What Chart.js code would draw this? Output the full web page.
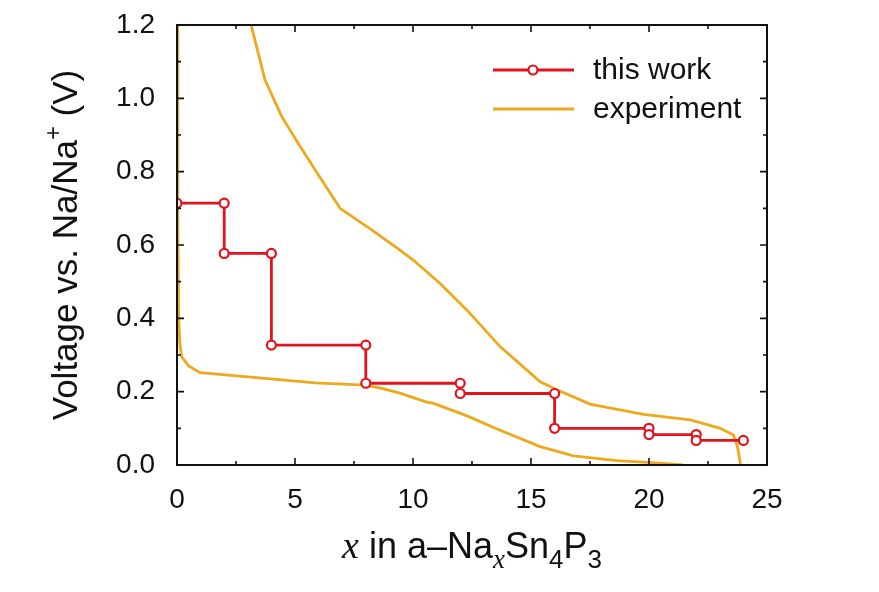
<!DOCTYPE html>
<html>
<head>
<meta charset="utf-8">
<script src="https://cdn.jsdelivr.net/npm/chart.js@4.4.1/dist/chart.umd.min.js"></script>
<style>
  html, body { margin: 0; padding: 0; background: #fff; }
  #wrap { width: 879px; height: 592px; }
</style>
</head>
<body>
<div id="wrap"><canvas id="grafico"></canvas></div>
<script>
// this work: stepped voltage profile
const workX = [0, 2, 2, 4, 4, 8, 8, 12, 12, 16, 16, 20, 20, 22, 22, 24];
const workY = [0.714, 0.714, 0.577, 0.577, 0.327, 0.327, 0.223, 0.223, 0.195, 0.195, 0.100, 0.100, 0.083, 0.083, 0.067, 0.067];

// experiment: discharge branch
const disX = [0.0, 0.02, 0.04, 0.07, 0.12, 0.2, 0.5, 0.97, 3.73, 5.85, 7.97, 8.68, 9.45, 10.51, 10.87, 12.21, 13.69, 15.39, 16.8, 18.64, 20.47, 21.45];
const disY = [1.25, 1.0, 0.7, 0.404, 0.33, 0.295, 0.27, 0.252, 0.236, 0.224, 0.218, 0.209, 0.196, 0.173, 0.168, 0.136, 0.095, 0.05, 0.025, 0.012, 0.005, 0.0];
// experiment: charge branch
const chX = [23.88, 23.75, 23.58, 23.02, 21.75, 19.77, 17.5, 16.1, 15.39, 13.69, 12.28, 11.15, 10.05, 9.45, 8.25, 6.91, 5.85, 5.14, 4.44, 3.73, 3.14, 3.05];
const chY = [0.0, 0.05, 0.082, 0.10, 0.123, 0.138, 0.166, 0.205, 0.227, 0.323, 0.423, 0.495, 0.557, 0.586, 0.641, 0.70, 0.805, 0.877, 0.95, 1.05, 1.2, 1.25];

const xTicks = [0, 5, 10, 15, 20, 25];
const yTicks = [0.0, 0.2, 0.4, 0.6, 0.8, 1.0, 1.2];
const nomes = ['this work', 'experiment'];

const VERMELHO = '#e1141e';
const LARANJA = '#eea81c';
const FONTE = '"Liberation Sans", Arial, sans-serif';

const dadosWork = workX.map((x, i) => ({x, y: workY[i]}));
const dadosExp = disX.map((x, i) => ({x, y: disY[i]}))
  .concat([{x: 22.6, y: null}])
  .concat(chX.map((x, i) => ({x, y: chY[i]})));

// frame, inward ticks, legend and axis titles
const moldura = {
  id: 'moldura',
  afterDraw(chart) {
    const {ctx, chartArea: a, scales} = chart;
    const sx = scales.x, sy = scales.y;
    ctx.save();
    ctx.strokeStyle = '#111';
    ctx.lineWidth = 2;
    ctx.strokeRect(a.left, a.top, a.right - a.left, a.bottom - a.top);

    ctx.lineWidth = 1.6;
    ctx.beginPath();
    for (let v = 0; v <= 25.001; v += 2.5) {
      const px = sx.getPixelForValue(v);
      const len = Math.abs(v % 5) < 0.01 ? 7 : 4;
      ctx.moveTo(px, a.bottom); ctx.lineTo(px, a.bottom - len);
      ctx.moveTo(px, a.top); ctx.lineTo(px, a.top + len);
    }
    for (let k = 0; k <= 12; k++) {
      const py = sy.getPixelForValue(k / 10);
      const len = k % 2 === 0 ? 7 : 4;
      ctx.moveTo(a.left, py); ctx.lineTo(a.left + len, py);
      ctx.moveTo(a.right, py); ctx.lineTo(a.right - len, py);
    }
    ctx.stroke();

    // legend
    ctx.lineWidth = 2.8;
    ctx.strokeStyle = VERMELHO;
    ctx.beginPath(); ctx.moveTo(493, 70); ctx.lineTo(574, 70); ctx.stroke();
    ctx.fillStyle = '#fff';
    ctx.lineWidth = 2.2;
    ctx.beginPath(); ctx.arc(533, 70, 4.5, 0, Math.PI * 2); ctx.fill(); ctx.stroke();
    ctx.lineWidth = 2.8;
    ctx.strokeStyle = LARANJA;
    ctx.beginPath(); ctx.moveTo(493, 109); ctx.lineTo(574, 109); ctx.stroke();
    ctx.fillStyle = '#111';
    ctx.font = '30px ' + FONTE;
    ctx.textBaseline = 'middle';
    ctx.textAlign = 'left';
    ctx.fillText(nomes[0], 593, 71);
    ctx.fillText(nomes[1], 593, 110);

    // x title
    const partes = [
      {t: 'x', f: 'italic 38px "Liberation Serif", serif', dy: 0},
      {t: ' in a\u2013Na', f: '36px ' + FONTE, dy: 0},
      {t: 'x', f: 'italic 27px "Liberation Serif", serif', dy: 10},
      {t: 'Sn', f: '36px ' + FONTE, dy: 0},
      {t: '4', f: '26px ' + FONTE, dy: 10},
      {t: 'P', f: '36px ' + FONTE, dy: 0},
      {t: '3', f: '26px ' + FONTE, dy: 10}
    ];
    ctx.textBaseline = 'alphabetic';
    let larg = 0;
    partes.forEach(p => { ctx.font = p.f; larg += ctx.measureText(p.t).width; });
    let cx = (a.left + a.right) / 2 - larg / 2;
    partes.forEach(p => {
      ctx.font = p.f;
      ctx.fillText(p.t, cx, 558 + p.dy);
      cx += ctx.measureText(p.t).width;
    });

    // y title
    const partesY = [
      {t: 'Voltage vs. Na/Na', f: '35px ' + FONTE, dy: 0},
      {t: '+', f: '24px ' + FONTE, dy: -16},
      {t: ' (V)', f: '35px ' + FONTE, dy: 0}
    ];
    ctx.translate(77, (a.top + a.bottom) / 2);
    ctx.rotate(-Math.PI / 2);
    larg = 0;
    partesY.forEach(p => { ctx.font = p.f; larg += ctx.measureText(p.t).width; });
    cx = -larg / 2;
    partesY.forEach(p => {
      ctx.font = p.f;
      ctx.fillText(p.t, cx, p.dy);
      cx += ctx.measureText(p.t).width;
    });
    ctx.restore();
  }
};

new Chart(document.getElementById('grafico'), {
  type: 'scatter',
  data: {
    datasets: [{
      label: nomes[0],
      data: dadosWork,
      showLine: true,
      borderColor: VERMELHO,
      borderWidth: 2.8,
      pointRadius: 4.5,
      pointBorderWidth: 2.2,
      pointBorderColor: VERMELHO,
      pointBackgroundColor: '#fff',
      tension: 0
    }, {
      label: nomes[1],
      data: dadosExp,
      showLine: true,
      spanGaps: false,
      borderColor: LARANJA,
      borderWidth: 2.8,
      pointRadius: 0,
      tension: 0
    }]
  },
  options: {
    responsive: true,
    maintainAspectRatio: false,
    animation: false,
    layout: { padding: { top: 25, right: 112, left: 0, bottom: 0 } },
    plugins: { legend: { display: false }, tooltip: { enabled: false } },
    scales: {
      x: {
        type: 'linear',
        min: 0, max: 25,
        afterFit: s => { s.height = 127; s.paddingLeft = 0; s.paddingRight = 0; },
        afterBuildTicks: s => { s.ticks = xTicks.map(v => ({value: v})); },
        grid: { display: false },
        border: { display: false },
        ticks: { color: '#111', font: { size: 28, family: FONTE }, padding: 10 }
      },
      y: {
        type: 'linear',
        min: 0, max: 1.2,
        afterFit: s => { s.width = 177; s.paddingTop = 0; s.paddingBottom = 0; },
        afterBuildTicks: s => { s.ticks = yTicks.map(v => ({value: v})); },
        grid: { display: false },
        border: { display: false },
        ticks: { color: '#111', font: { size: 28, family: FONTE }, padding: 14,
                 callback: v => v.toFixed(1) }
      }
    }
  },
  plugins: [moldura]
});
</script>
</body>
</html>
